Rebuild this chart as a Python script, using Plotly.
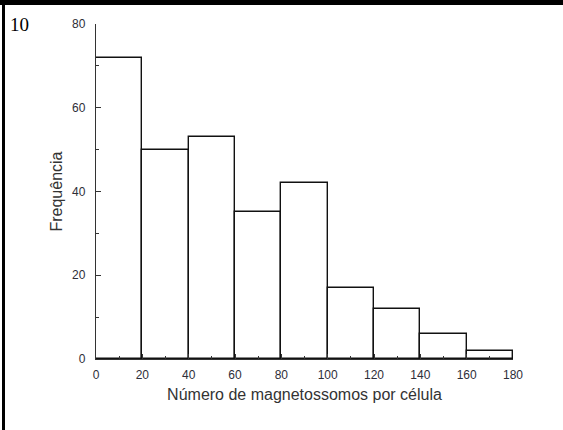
import plotly.graph_objects as go

# Histogram of magnetosome counts per cell
bin_edges = [0, 20, 40, 60, 80, 100, 120, 140, 160, 180]
frequencies = [72, 50, 53, 35, 42, 17, 12, 6, 2]
x_ticks = [0, 20, 40, 60, 80, 100, 120, 140, 160, 180]
y_ticks = [0, 20, 40, 60, 80]

centers = [(a + b) / 2 for a, b in zip(bin_edges[:-1], bin_edges[1:])]
widths = [b - a for a, b in zip(bin_edges[:-1], bin_edges[1:])]

W, H = 563, 430
ML, MR, MT, MB = 96, 50, 24, 71
PW, PH = W - ML - MR, H - MT - MB


def px(xp):
    return (xp - ML) / PW


def py(yp):
    return 1 - (yp - MT) / PH


fig = go.Figure(
    go.Bar(
        x=centers,
        y=frequencies,
        width=widths,
        marker=dict(color="white", line=dict(color="#111", width=1.4)),
        showlegend=False,
    )
)

tick_font = dict(family="Liberation Sans, Arial", size=12, color="#2e2e38")
title_font = dict(family="Liberation Sans, Arial", size=16, color="#333333")

fig.update_xaxes(
    range=[0, 180],
    tickvals=x_ticks,
    ticks="inside",
    ticklen=5,
    tickcolor="#333",
    showline=True,
    linecolor="#333",
    linewidth=1.3,
    showgrid=False,
    zeroline=False,
    tickfont=tick_font,
    ticklabelstandoff=4,
    minor=dict(ticks="inside", ticklen=3, dtick=10, tickcolor="#333"),
    title=dict(text="Número de magnetossomos por célula", font=title_font, standoff=8),
)
fig.update_yaxes(
    range=[0, 80],
    tickvals=y_ticks,
    ticks="inside",
    ticklen=5,
    tickcolor="#333",
    showline=True,
    linecolor="#333",
    linewidth=1.3,
    showgrid=False,
    zeroline=False,
    tickfont=tick_font,
    ticklabelstandoff=7,
    minor=dict(ticks="inside", ticklen=3, dtick=10, tickcolor="#333"),
    title=dict(text="Frequência", font=title_font, standoff=5),
)

# Page frame: heavy rule along the top and the left edge
fig.add_shape(type="rect", xref="paper", yref="paper",
              x0=px(0), x1=px(W), y0=py(5), y1=py(0),
              fillcolor="black", line_width=0, layer="above")
fig.add_shape(type="rect", xref="paper", yref="paper",
              x0=px(2), x1=px(5), y0=py(H), y1=py(0),
              fillcolor="black", line_width=0, layer="above")

fig.add_annotation(text="10", xref="paper", yref="paper",
                   x=px(8), y=py(12), xanchor="left", yanchor="top",
                   showarrow=False,
                   font=dict(family="Liberation Serif, Times New Roman", size=19, color="black"))

fig.update_layout(
    width=W,
    height=H,
    margin=dict(l=ML, r=MR, t=MT, b=MB),
    paper_bgcolor="white",
    plot_bgcolor="white",
    bargap=0,
)

fig.write_html("out.html")
